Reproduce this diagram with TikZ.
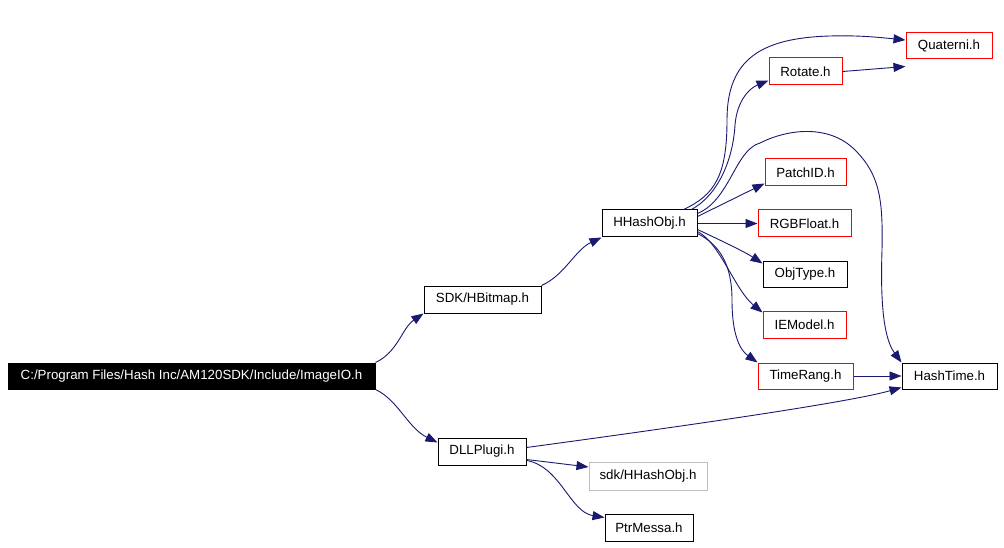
\documentclass[tikz,border=0pt]{standalone}
\usepackage{fontspec}
\setmainfont{Liberation Sans}
\usetikzlibrary{arrows.meta}
\definecolor{edgeblue}{HTML}{191970}
\definecolor{lightgray}{HTML}{BFBFBF}
\tikzset{file/.style={draw,line width=1pt,inner sep=0pt,minimum height=27pt,
                      font=\fontsize{13.3}{16}\selectfont},
         redfile/.style={file,draw=red},
         grayfile/.style={file,draw=lightgray},
         rootfile/.style={file,fill=black,text=white},
         dep/.style={draw=edgeblue,line width=0.9pt,
                     -{Triangle[length=12pt,width=9pt]}},
         }
\begin{document}
\begin{tikzpicture}[x=1pt,y=-1pt]
\useasboundingbox (0,0) rectangle (1004,548);
% files
\node[rootfile,minimum width=367pt,minimum height=26pt] (io) at (191.5,376) {C:/Program Files/Hash Inc/AM120SDK/Include/ImageIO.h};
\node[file,minimum width=117pt] (hbmp) at (482.5,299.5) {SDK/HBitmap.h};
\node[file,minimum width=88pt] (dll) at (482,451.5) {DLLPlugi.h};
\node[file,minimum width=95pt] (hhash) at (649.5,223.5) {HHashObj.h};
\node[redfile,minimum width=86pt,minimum height=26pt] (quat) at (949,46) {Quaterni.h};
\node[redfile,minimum width=73pt] (rot) at (805.5,71.5) {Rotate.h};
\node[redfile,minimum width=81pt] (patch) at (805.5,172.5) {PatchID.h};
\node[redfile,minimum width=93pt] (rgb) at (804.5,223.5) {RGBFloat.h};
\node[file,minimum width=84pt,minimum height=26pt] (obj) at (805,274) {ObjType.h};
\node[redfile,minimum width=83pt] (iem) at (804.5,324.5) {IEModel.h};
\node[redfile,minimum width=95pt,minimum height=26pt] (trng) at (805.5,376) {TimeRang.h};
\node[file,minimum width=95pt,minimum height=26pt] (htime) at (949.5,376) {HashTime.h};
\node[grayfile,minimum width=118pt,minimum height=28pt] (sdkh) at (648,476) {sdk/HHashObj.h};
\node[file,minimum width=88pt] (ptr) at (649,527.5) {PtrMessa.h};
% includes
\draw[dep] (io.north east) .. controls (398,352) and (402,328) .. (hbmp.south west);
\draw[dep] (io.south east) .. controls (398,400) and (408,428) .. ([yshift=-5pt]dll.north west);
\draw[dep] (hbmp.north east) .. controls (565,275) and (575,250) .. (hhash.south west);
\draw[dep] ([xshift=-14pt]hhash.north east) .. controls (715,195) and (727,175) .. (727,120)
  .. controls (727,60) and (760,38) .. (830,36) .. controls (860,35) and (885,38) .. ([yshift=6pt]quat.west);
\draw[dep] ([xshift=-6pt]hhash.north east) .. controls (718,195) and (733,160) .. (735,125)
  .. controls (737,100) and (750,88) .. ([yshift=5pt]rot.south west);
\draw[dep] (rot.east) -- ([yshift=-7pt]quat.south west);
\draw[dep] ([yshift=-4pt]hhash.north east) .. controls (730,200) and (735,150) .. (760,143)
  .. controls (790,128) and (830,125) .. (855,150) .. controls (880,175) and (883,200) .. (882,250)
  .. controls (880,310) and (885,340) .. (htime.north west);
\draw[dep] ([yshift=-7pt]hhash.north east) -- ([yshift=3pt]patch.south west);
\draw[dep] (hhash.east) -- (rgb.west);
\draw[dep] ([yshift=-6pt]hhash.east) .. controls (720,240) and (745,252) .. ([yshift=-3pt]obj.north west);
\draw[dep] ([yshift=-8pt]hhash.east) .. controls (720,243) and (735,290) .. ([yshift=-2pt]iem.north west);
\draw[dep] ([yshift=-10pt]hhash.east) .. controls (720,245) and (732,265) .. (732,300)
  .. controls (732,335) and (740,350) .. (trng.north west);
\draw[dep] (trng.east) -- (htime.west);
\draw[dep] ([yshift=4pt]dll.east) .. controls (700,424) and (850,402) .. ([yshift=2pt]htime.south west);
\draw[dep] ([yshift=-8pt]dll.east) -- ([yshift=9pt]sdkh.west);
\draw[dep] ([yshift=-9pt]dll.east) .. controls (560,466) and (570,512) .. ([yshift=-4pt]ptr.north west);
\end{tikzpicture}
\end{document}
